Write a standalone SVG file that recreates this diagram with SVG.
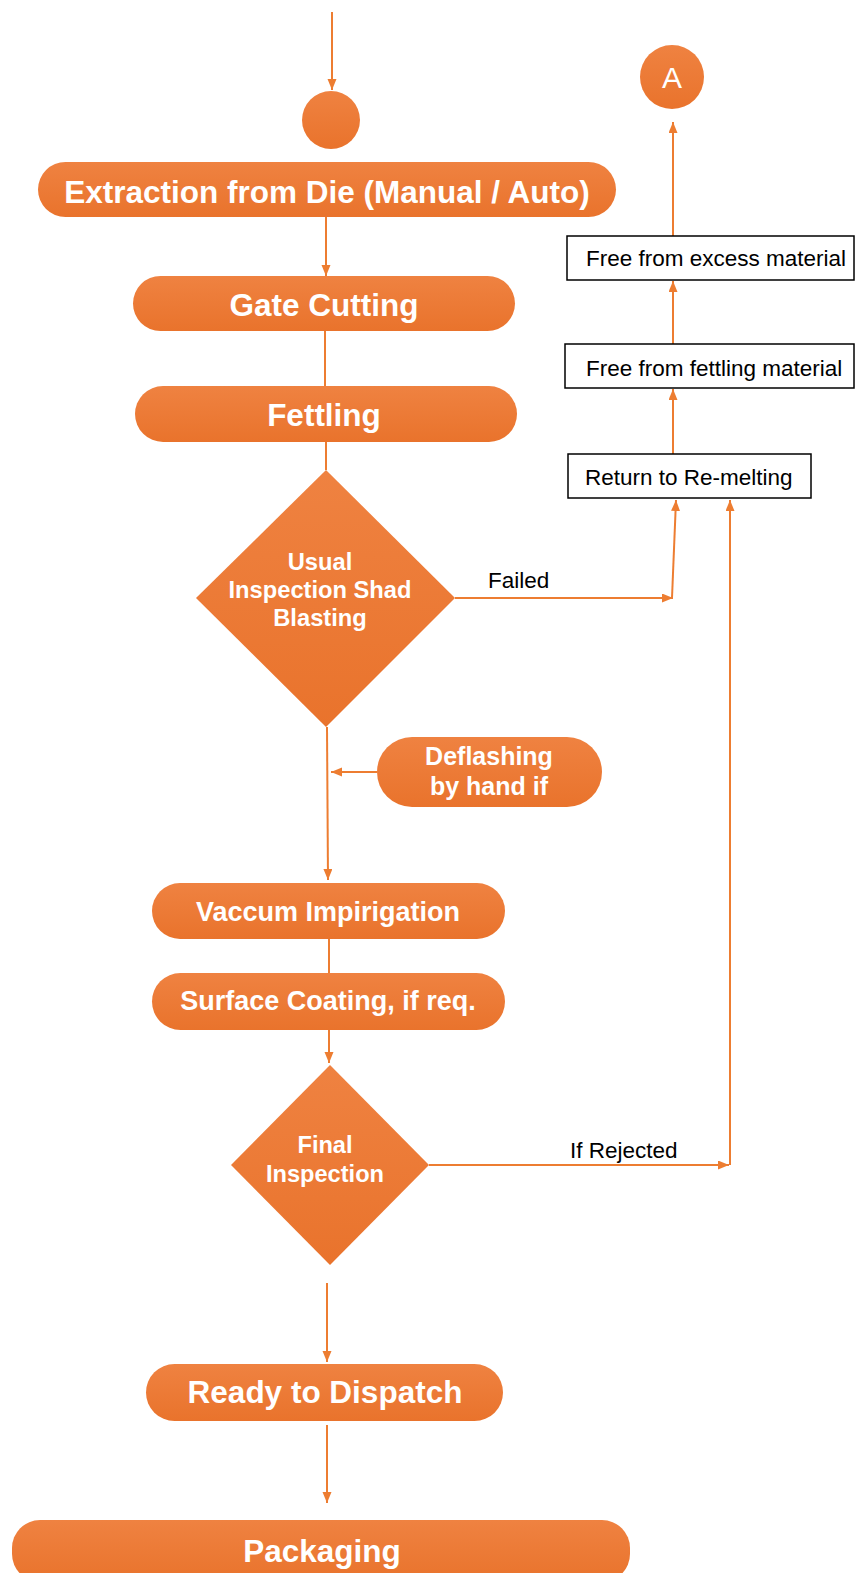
<svg xmlns="http://www.w3.org/2000/svg" width="856" height="1573" viewBox="0 0 856 1573">
<defs>
<linearGradient id="og" x1="0" y1="0" x2="0" y2="1">
<stop offset="0" stop-color="#EF8241"/>
<stop offset="1" stop-color="#E9732C"/>
</linearGradient>
<marker id="ah" markerUnits="userSpaceOnUse" markerWidth="12" markerHeight="10" refX="11" refY="4.5" orient="auto">
<path d="M0,0 L11,4.5 L0,9 z" fill="#ED7D31"/>
</marker>
</defs>
<style>
.sh{fill:url(#og);}
.wt{fill:#fff;font-family:"Liberation Sans",Arial,sans-serif;font-weight:bold;text-anchor:middle;}
.bt{fill:#000;font-family:"Liberation Sans",Arial,sans-serif;font-size:22.5px;}
.bx{fill:#fff;stroke:#000;stroke-width:1.5;}
.cn{fill:none;stroke:#ED7D31;stroke-width:2;}
</style>
<rect width="856" height="1573" fill="#fff"/>
<g id="connectors">
<path class="cn" d="M332,12 L332,90" marker-end="url(#ah)"/>
<path class="cn" d="M326,217 L326,276" marker-end="url(#ah)"/>
<path class="cn" d="M325,331 L325,386"/>
<path class="cn" d="M326,442 L326,470"/>
<path class="cn" d="M455,598 L673,598" marker-end="url(#ah)"/>
<path class="cn" d="M672,598 L676,500" marker-end="url(#ah)"/>
<path class="cn" d="M377,772 L331,772" marker-end="url(#ah)"/>
<path class="cn" d="M327,727 L328,880" marker-end="url(#ah)"/>
<path class="cn" d="M329,939 L329,973"/>
<path class="cn" d="M329,1030 L329,1063" marker-end="url(#ah)"/>
<path class="cn" d="M429,1165 L729,1165" marker-end="url(#ah)"/>
<path class="cn" d="M730,1165 L730,500" marker-end="url(#ah)"/>
<path class="cn" d="M673,454 L673,389" marker-end="url(#ah)"/>
<path class="cn" d="M673,344 L673,281" marker-end="url(#ah)"/>
<path class="cn" d="M673,236 L673,122" marker-end="url(#ah)"/>
<path class="cn" d="M327,1283 L327,1362" marker-end="url(#ah)"/>
<path class="cn" d="M327,1425 L327,1503" marker-end="url(#ah)"/>
</g>
<g id="start"><circle class="sh" cx="331" cy="120" r="29"/></g>
<g id="connA"><circle class="sh" cx="672" cy="77" r="32"/><text x="672" y="88" style="fill:#fff;font-family:'Liberation Sans',Arial,sans-serif;font-size:30px;text-anchor:middle">A</text></g>
<g id="extraction"><rect class="sh" x="38" y="162" width="578" height="55" rx="27.5"/><text class="wt" x="327" y="203" font-size="31.5">Extraction from Die (Manual / Auto)</text></g>
<g id="gate"><rect class="sh" x="133" y="276" width="382" height="55" rx="27.5"/><text class="wt" x="324" y="316" font-size="31.5">Gate Cutting</text></g>
<g id="fettling"><rect class="sh" x="135" y="386" width="382" height="56" rx="28"/><text class="wt" x="324" y="426" font-size="31.5">Fettling</text></g>
<g id="inspect1"><polygon class="sh" points="326,470 455,598 326,727 196,598"/>
<text class="wt" font-size="23.7"><tspan x="320" y="570">Usual</tspan><tspan x="320" y="598">Inspection Shad</tspan><tspan x="320" y="626">Blasting</tspan></text></g>
<g id="failed"><text class="bt" x="488" y="588" font-size="21.5">Failed</text></g>
<g id="deflash"><rect class="sh" x="377" y="737" width="225" height="70" rx="35"/>
<text class="wt" font-size="25"><tspan x="489" y="765">Deflashing</tspan><tspan x="489" y="795">by hand if</tspan></text></g>
<g id="vaccum"><rect class="sh" x="152" y="883" width="353" height="56" rx="28"/><text class="wt" x="328" y="921" font-size="27">Vaccum Impirigation</text></g>
<g id="surface"><rect class="sh" x="152" y="973" width="353" height="57" rx="28.5"/><text class="wt" x="328" y="1010" font-size="27">Surface Coating, if req.</text></g>
<g id="inspect2"><polygon class="sh" points="330,1065 429,1165 330,1265 231,1165"/>
<text class="wt" font-size="23.6"><tspan x="325" y="1153">Final</tspan><tspan x="325" y="1182">Inspection</tspan></text></g>
<g id="rejected"><text class="bt" x="570" y="1158">If Rejected</text></g>
<g id="ready"><rect class="sh" x="146" y="1364" width="357" height="57" rx="28.5"/><text class="wt" x="325" y="1403" font-size="31.5">Ready to Dispatch</text></g>
<g id="packaging"><rect class="sh" x="12" y="1520" width="618" height="62" rx="28"/><text class="wt" x="322" y="1562" font-size="31.5">Packaging</text></g>
<g id="remelt"><rect class="bx" x="568" y="454" width="243" height="44"/><text class="bt" x="585" y="485">Return to Re-melting</text></g>
<g id="freefettling"><rect class="bx" x="565" y="344" width="289" height="44"/><text class="bt" x="586" y="376">Free from fettling material</text></g>
<g id="freeexcess"><rect class="bx" x="567" y="236" width="287" height="44"/><text class="bt" x="586" y="266">Free from excess material</text></g>
</svg>
